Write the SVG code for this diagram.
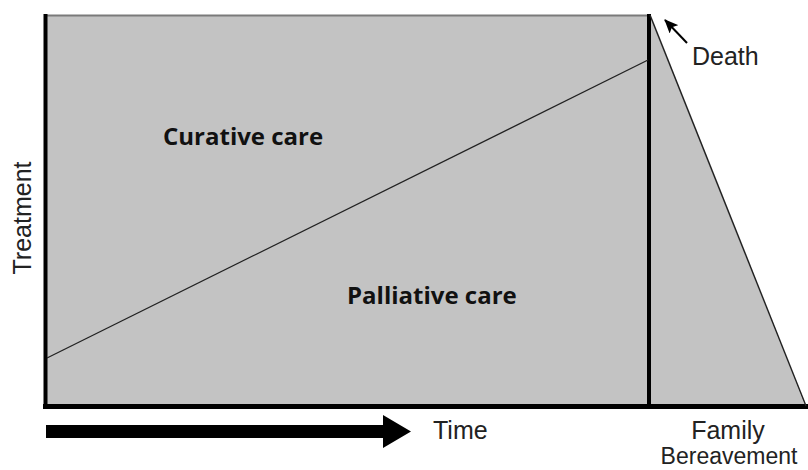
<svg xmlns="http://www.w3.org/2000/svg" width="808" height="470" viewBox="0 0 808 470">
<style>
.lbl{font-family:"Liberation Sans",Arial,sans-serif;font-size:25px;fill:#222}
.care{font-family:"Open Sans","Noto Sans",sans-serif;font-weight:bold;font-size:24px;fill:#111}
</style>
<defs>
<marker id="ah" markerWidth="14" markerHeight="12" refX="13" refY="6" orient="auto" markerUnits="userSpaceOnUse">
<path d="M0,0 L14,6 L0,12 L3,6 Z" fill="#000"/>
</marker>
</defs>
<g id="chart">
<polygon points="46,15 650,15 805,406 46,406" fill="#c3c3c3"/>
<line x1="44" y1="15.5" x2="650" y2="15.5" stroke="#7a7a7a" stroke-width="2"/>
<line x1="45.5" y1="14" x2="45.5" y2="409" stroke="#000" stroke-width="4"/>
<line x1="43" y1="406.5" x2="808" y2="406.5" stroke="#000" stroke-width="5"/>
<line x1="649" y1="14" x2="649" y2="406" stroke="#000" stroke-width="4"/>
<line x1="650" y1="15" x2="806" y2="406" stroke="#222" stroke-width="1.5"/>
<line x1="47" y1="358" x2="648" y2="60" stroke="#222" stroke-width="1.3"/>
</g>
<g id="curative"><text class="care" x="163" y="145">Curative care</text></g>
<g id="palliative"><text class="care" x="347" y="304">Palliative care</text></g>
<g id="treatment"><text class="lbl" transform="translate(31,218) rotate(-90)" text-anchor="middle">Treatment</text></g>
<g id="death"><text class="lbl" x="692" y="65">Death</text></g>
<g id="time"><text class="lbl" x="433" y="439">Time</text></g>
<g id="bereavement">
<text class="lbl" x="728" y="439" text-anchor="middle">Family</text>
<text class="lbl" x="729" y="464" text-anchor="middle" style="font-size:23px">Bereavement</text>
</g>
<g id="connectors">
<line x1="687" y1="43" x2="665" y2="20" stroke="#000" stroke-width="2" marker-end="url(#ah)"/>
<polygon points="46,425 383,425 383,415 411,431.5 383,448 383,438 46,438" fill="#000"/>
</g>
</svg>
